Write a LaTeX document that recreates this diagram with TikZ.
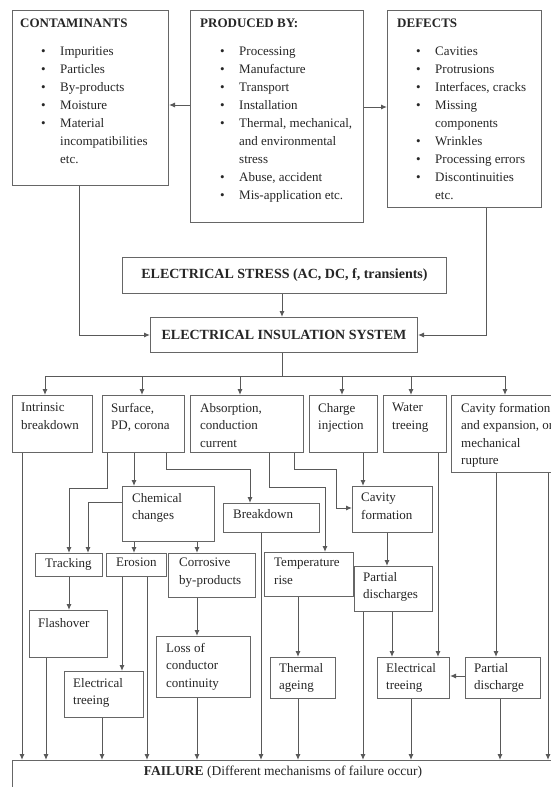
\documentclass[tikz,border=0pt]{standalone}
\usepackage{fontspec}
\setmainfont{Liberation Serif}
\usetikzlibrary{arrows.meta,calc}
\newcommand\bitem[1]{\makebox[19pt][l]{\textbullet}#1}
\newcommand\bcont[1]{\hspace*{19pt}#1}
\begin{document}
\begin{tikzpicture}[x=1pt,y=-1pt,
  box/.style={draw=black!60, line width=1pt, rectangle, inner sep=0pt, anchor=north west},
  txt/.style={inner sep=0pt, anchor=north west, align=left, text=black!85, font=\fontsize{13}{17.5}\selectfont},
  lst/.style={txt, font=\fontsize{13}{18}\selectfont},
  big/.style={inner sep=0pt, anchor=center, text=black!85, font=\fontsize{14}{17}\selectfont\bfseries},
  arr/.style={draw=black!65, line width=1pt, -{Latex[length=6pt,width=5pt]}},
  ln/.style={draw=black!65, line width=1pt}]
\useasboundingbox[fill=white] (0,0) rectangle (550,787);

% ---- top boxes
\node[box, minimum width=156pt, minimum height=175pt] (cont) at (12,10) {};
\node[box, minimum width=173pt, minimum height=212pt] (prod) at (190,10) {};
\node[box, minimum width=154pt, minimum height=197pt] (def) at (387,10) {};
\node[txt] (cont-t) at ($(cont.north west)+(8,9)$) {\textbf{CONTAMINANTS}};
\node[txt] (prod-t) at ($(prod.north west)+(10,9)$) {\textbf{PRODUCED BY:}};
\node[txt] (def-t) at ($(def.north west)+(10,9)$) {\textbf{DEFECTS}};
\node[lst] (cont-l) at ($(cont.north west)+(29,37)$) {\bitem{Impurities}\\\bitem{Particles}\\\bitem{By-products}\\\bitem{Moisture}\\\bitem{Material}\\\bcont{incompatibilities}\\\bcont{etc.}};
\node[lst] (prod-l) at ($(prod.north west)+(30,37)$) {\bitem{Processing}\\\bitem{Manufacture}\\\bitem{Transport}\\\bitem{Installation}\\\bitem{Thermal, mechanical,}\\\bcont{and environmental}\\\bcont{stress}\\\bitem{Abuse, accident}\\\bitem{Mis-application etc.}};
\node[lst] (def-l) at ($(def.north west)+(29,37)$) {\bitem{Cavities}\\\bitem{Protrusions}\\\bitem{Interfaces, cracks}\\\bitem{Missing}\\\bcont{components}\\\bitem{Wrinkles}\\\bitem{Processing errors}\\\bitem{Discontinuities}\\\bcont{etc.}};

% ---- stress and system
\node[box, minimum width=324pt, minimum height=36pt] (stress) at (122,257) {};
\node[big] (stress-t) at (stress.center) {ELECTRICAL STRESS (AC, DC, f, transients)};
\node[box, minimum width=267pt, minimum height=35pt] (eis) at (150,317) {};
\node[big] (eis-t) at (eis.center) {ELECTRICAL INSULATION SYSTEM};

% ---- row 2
\node[box, minimum width=80pt, minimum height=57pt] (intr) at (12,395) {};
\node[box, minimum width=82pt, minimum height=57pt] (surf) at (102,395) {};
\node[box, minimum width=113pt, minimum height=57pt] (abs) at (190,395) {};
\node[box, minimum width=68pt, minimum height=57pt] (chg) at (309,395) {};
\node[box, minimum width=63pt, minimum height=57pt] (water) at (383,395) {};
\node[box, minimum width=129pt, minimum height=77pt] (cavexp) at (451,395) {};
\node[txt] (intr-t) at ($(intr.north west)+(9,8)$) {Intrinsic\\breakdown};
\node[txt] (surf-t) at ($(surf.north west)+(9,8)$) {Surface,\\PD, corona};
\node[txt] (abs-t) at ($(abs.north west)+(10,8)$) {Absorption,\\conduction\\current};
\node[txt] (chg-t) at ($(chg.north west)+(9,8)$) {Charge\\injection};
\node[txt] (water-t) at ($(water.north west)+(9,8)$) {Water\\treeing};
\node[txt] (cavexp-t) at ($(cavexp.north west)+(10,8)$) {Cavity formation\\and expansion, or\\mechanical\\rupture};

% ---- row 3
\node[box, minimum width=92pt, minimum height=55pt] (chem) at (122,486) {};
\node[box, minimum width=96pt, minimum height=29pt] (brk) at (223,503) {};
\node[box, minimum width=80pt, minimum height=46pt] (cavf) at (352,486) {};
\node[txt] (chem-t) at ($(chem.north west)+(10,7)$) {Chemical\\changes};
\node[txt] (brk-t) at ($(brk.north west)+(10,6)$) {Breakdown};
\node[txt] (cavf-t) at ($(cavf.north west)+(9,7)$) {Cavity\\formation};

% ---- row 4
\node[box, minimum width=67pt, minimum height=23pt] (track) at (35,553) {};
\node[box, minimum width=60pt, minimum height=23pt] (eros) at (106,553) {};
\node[box, minimum width=87pt, minimum height=44pt] (corr) at (168,553) {};
\node[box, minimum width=89pt, minimum height=44pt] (temp) at (264,552) {};
\node[box, minimum width=78pt, minimum height=45pt] (pd) at (354,566) {};
\node[txt] (track-t) at ($(track.north west)+(10,5)$) {Tracking};
\node[txt] (eros-t) at ($(eros.north west)+(10,5)$) {Erosion};
\node[txt] (corr-t) at ($(corr.north west)+(11,5)$) {Corrosive\\by-products};
\node[txt] (temp-t) at ($(temp.north west)+(10,6)$) {Temperature\\rise};
\node[txt] (pd-t) at ($(pd.north west)+(9,6)$) {Partial\\discharges};

% ---- row 5
\node[box, minimum width=78pt, minimum height=47pt] (flash) at (29,610) {};
\node[box, minimum width=94pt, minimum height=61pt] (loss) at (156,636) {};
\node[box, minimum width=65pt, minimum height=41pt] (therm) at (270,657) {};
\node[box, minimum width=72pt, minimum height=41pt] (tree2) at (377,657) {};
\node[box, minimum width=75pt, minimum height=41pt] (pdis) at (465,657) {};
\node[box, minimum width=79pt, minimum height=46pt] (tree1) at (64,671) {};
\node[txt] (flash-t) at ($(flash.north west)+(9,8)$) {Flashover};
\node[txt] (loss-t) at ($(loss.north west)+(10,7)$) {Loss of\\conductor\\continuity};
\node[txt] (therm-t) at ($(therm.north west)+(9,6)$) {Thermal\\ageing};
\node[txt] (tree2-t) at ($(tree2.north west)+(9,6)$) {Electrical\\treeing};
\node[txt] (pdis-t) at ($(pdis.north west)+(9,6)$) {Partial\\discharge};
\node[txt] (tree1-t) at ($(tree1.north west)+(9,7)$) {Electrical\\treeing};

% ---- failure
\node[box, minimum width=560pt, minimum height=60pt] (fail) at (12,760) {};
\node[inner sep=0pt, anchor=center, text=black!85, font=\fontsize{13.5}{17}\selectfont] (fail-t) at ($(fail.north west)+(271,12)$) {\textbf{FAILURE} (Different mechanisms of failure occur)};

% ---- connectors, top
\draw[arr] ($(prod.north west)+(0,95)$) -- ($(cont.north east)+(0,95)$);
\draw[arr] ($(prod.north east)+(0,97)$) -- ($(def.north west)+(0,97)$);
\draw[arr] ($(cont.south west)+(67,0)$) |- (eis.west);
\draw[arr] ($(def.south west)+(99,0)$) |- (eis.east);
\draw[arr] ($(stress.south west)+(160,0)$) -- ($(eis.north west)+(132,0)$);

% ---- bus
\coordinate (busL) at (45,376);
\coordinate (busR) at (505,376);
\draw[ln] ($(eis.south west)+(132,0)$) -- ($(eis.south west)+(132,24)$);
\draw[ln] (busL) -- (busR);
\draw[arr] (busL) -- (intr.north -| busL);
\draw[arr] ($(surf.north west)+(40,-19)$) -- ($(surf.north west)+(40,0)$);
\draw[arr] ($(abs.north west)+(50,-19)$) -- ($(abs.north west)+(50,0)$);
\draw[arr] ($(chg.north west)+(33,-19)$) -- ($(chg.north west)+(33,0)$);
\draw[arr] ($(water.north west)+(28,-19)$) -- ($(water.north west)+(28,0)$);
\draw[arr] (busR) -- (cavexp.north -| busR);

% ---- row 2 outputs
\draw[arr] ($(intr.south west)+(10,0)$) -- ($(fail.north west)+(10,0)$);
\draw[arr] ($(surf.south west)+(5,0)$) -- ++(0,35) -| ($(track.north west)+(34,0)$);
\draw[arr] ($(surf.south west)+(32,0)$) -- ($(chem.north west)+(12,0)$);
\draw[arr] ($(surf.south west)+(64,0)$) -- ++(0,16) -| ($(brk.north west)+(27,0)$);
\draw[arr] ($(chem.north west)+(0,16)$) -| ($(track.north west)+(53,0)$);
\draw[arr] ($(chem.south west)+(12,0)$) -- ($(eros.north west)+(28,0)$);
\draw[arr] ($(chem.south west)+(75,0)$) -- ($(corr.north west)+(29,0)$);
\draw[arr] ($(abs.south west)+(79,0)$) -- ++(0,34) -| ($(temp.north west)+(61,0)$);
\draw[arr] ($(abs.south west)+(104,0)$) -- ++(0,16) -| ($(cavf.north west)+(-16,22)$) -- ($(cavf.north west)+(0,22)$);
\draw[arr] ($(chg.south west)+(54,0)$) -- ($(cavf.north west)+(11,0)$);
\draw[arr] ($(water.south west)+(55,0)$) -- ($(tree2.north west)+(61,0)$);
\draw[arr] ($(cavexp.south west)+(45,0)$) -- ($(pdis.north west)+(31,0)$);
\draw[arr] ($(cavexp.south west)+(97,0)$) -- ($(fail.north west)+(536,0)$);

% ---- lower connectors
\draw[arr] ($(brk.south west)+(38,0)$) -- ($(fail.north west)+(249,0)$);
\draw[arr] ($(cavf.south west)+(35,0)$) -- ($(pd.north west)+(33,0)$);
\draw[arr] ($(pd.south west)+(9,0)$) -- ($(fail.north west)+(351,0)$);
\draw[arr] ($(pd.south west)+(38,0)$) -- ($(tree2.north west)+(15,0)$);
\draw[arr] ($(pdis.north west)+(0,19)$) -- ($(tree2.north east)+(0,19)$);
\draw[arr] ($(pdis.south west)+(35,0)$) -- ($(fail.north west)+(488,0)$);
\draw[arr] ($(tree2.south west)+(34,0)$) -- ($(fail.north west)+(399,0)$);
\draw[arr] ($(temp.south west)+(34,0)$) -- ($(therm.north west)+(28,0)$);
\draw[arr] ($(therm.south west)+(28,0)$) -- ($(fail.north west)+(286,0)$);
\draw[arr] ($(track.south west)+(34,0)$) -- ($(flash.north west)+(40,0)$);
\draw[arr] ($(flash.south west)+(17,0)$) -- ($(fail.north west)+(34,0)$);
\draw[arr] ($(eros.south west)+(16,0)$) -- ($(tree1.north west)+(58,0)$);
\draw[arr] ($(eros.south west)+(41,0)$) -- ($(fail.north west)+(135,0)$);
\draw[arr] ($(corr.south west)+(29,0)$) -- ($(loss.north west)+(41,0)$);
\draw[arr] ($(loss.south west)+(41,0)$) -- ($(fail.north west)+(185,0)$);
\draw[arr] ($(tree1.south west)+(38,0)$) -- ($(fail.north west)+(90,0)$);
\end{tikzpicture}
\end{document}
